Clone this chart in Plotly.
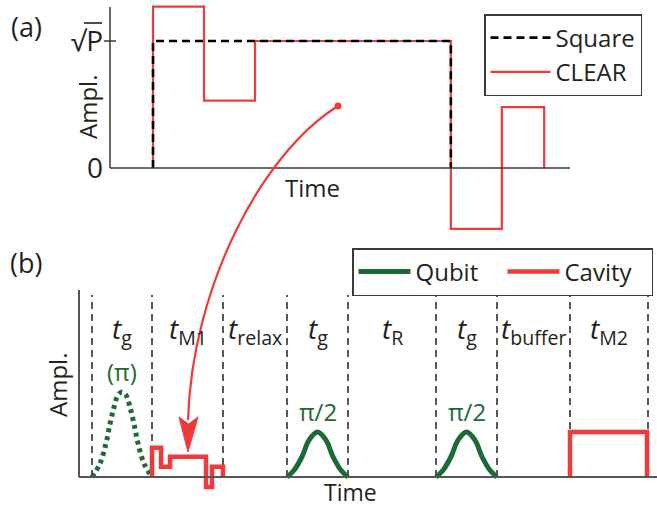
import plotly.graph_objects as go

W, H = 657, 507

# ---------------- data: panel (a) ----------------
clear_t = [0, 1, 2, 5.84, 6.84, 7.67]          # CLEAR segment boundaries (time units)
clear_amp = [1.27, 0.53, 1.0, -0.48, 0.48]     # CLEAR segment amplitudes (sqrt(P) units)
square_t = [0, 5.84]                           # square pulse start / end
square_amp = [1.0]                             # square pulse amplitude
a_ytick_vals = [0, 1]
a_ytick_text = ["0", "√P"]

# ---------------- data: panel (b) ----------------
seg_bounds = [0, 60, 131, 195, 256, 344, 405, 478, 556]
seg_labels = ["<i>t</i><sub>g</sub>", "<i>t</i><sub>M1</sub>", "<i>t</i><sub>relax</sub>",
              "<i>t</i><sub>g</sub>", "<i>t</i><sub>R</sub>", "<i>t</i><sub>g</sub>",
              "<i>t</i><sub>buffer</sub>", "<i>t</i><sub>M2</sub>"]
pi_dt = [0, 8, 14, 18, 22, 26, 30, 34, 38, 42, 46, 52, 60]
pi_amp = [0, 0.3, 0.75, 1.18, 1.55, 1.82, 1.89, 1.82, 1.55, 1.18, 0.75, 0.3, 0]
pi_start = 0
pi2_dt = [0, 7, 15, 22, 30.5, 39, 46, 54, 61]
pi2_amp = [0, 0.15, 0.45, 0.82, 1.0, 0.82, 0.45, 0.15, 0]
pi2_starts = [195, 344]
mini_clear_t = [60, 69, 78, 114, 120, 131]
mini_clear_amp = [0.65, 0.23, 0.45, -0.22, 0.23]
m2_t = [478, 555]
m2_amp = [1.0]

# ---------------- styles ----------------
RED = "#EE3A3A"
GREEN = "#1D6A36"
TXT = "#231F20"
AX = "#3A3A3A"
FONT = "Open Sans"

def px_x(p):
    return p / W

def px_y(p):
    return 1 - p / H

def steps(t, amp):
    return [t[0]] + list(t), [0] + list(amp) + [0]

fig = go.Figure()

# panel (a)
cx, cy = steps(clear_t, clear_amp)
fig.add_trace(go.Scatter(x=cx, y=cy, mode="lines", line=dict(color=RED, width=2.2, shape="hv"),
                         name="CLEAR", legend="legend", legendrank=2, xaxis="x", yaxis="y"))
sx, sy = steps(square_t, square_amp)
fig.add_trace(go.Scatter(x=sx, y=sy, mode="lines",
                         line=dict(color="black", width=2.6, shape="hv", dash="8px,5px"),
                         name="Square", legend="legend", legendrank=1, xaxis="x", yaxis="y"))

# panel (b)
fig.add_trace(go.Scatter(x=[pi_start + d for d in pi_dt], y=pi_amp, mode="lines",
                         line=dict(color=GREEN, width=5, shape="spline", dash="4px,4px"),
                         showlegend=False, xaxis="x2", yaxis="y2"))
for i, s in enumerate(pi2_starts):
    fig.add_trace(go.Scatter(x=[s + d for d in pi2_dt], y=pi2_amp, mode="lines",
                             line=dict(color=GREEN, width=5, shape="spline"),
                             name="Qubit", showlegend=(i == 0), legend="legend2",
                             xaxis="x2", yaxis="y2"))
mx, my = steps(mini_clear_t, mini_clear_amp)
fig.add_trace(go.Scatter(x=mx, y=my, mode="lines", line=dict(color=RED, width=4.5, shape="hv"),
                         name="Cavity", legend="legend2", xaxis="x2", yaxis="y2"))
m2x, m2y = steps(m2_t, m2_amp)
fig.add_trace(go.Scatter(x=m2x, y=m2y, mode="lines", line=dict(color=RED, width=4.5, shape="hv"),
                         showlegend=False, xaxis="x2", yaxis="y2"))

# ---------------- axes geometry ----------------
A_X0, A_UNIT = 153, 51          # px of t=0 and px per unit (panel a)
A_Y0, A_YUNIT = 168, 127        # px of amp=0 and px per unit
A_LEFT, A_RIGHT, A_TOP, A_BOT = 110, 570, 3, 240
B_X0 = 92
B_Y0, B_YUNIT = 477, 45
B_LEFT, B_RIGHT, B_TOP, B_BOT = 79, 657, 285, 497

hidden = dict(showgrid=False, zeroline=False, showline=False, showticklabels=False, ticks="")

fig.update_layout(
    width=W, height=H, margin=dict(l=0, r=0, t=0, b=0, autoexpand=False),
    paper_bgcolor="white", plot_bgcolor="rgba(0,0,0,0)",
    font=dict(family=FONT, color=TXT, size=24),
    xaxis=dict(domain=[px_x(A_LEFT), px_x(A_RIGHT)],
               range=[(A_LEFT - A_X0) / A_UNIT, (A_RIGHT - A_X0) / A_UNIT], **hidden),
    yaxis=dict(domain=[px_y(A_BOT), px_y(A_TOP)],
               range=[(A_Y0 - A_BOT) / A_YUNIT, (A_Y0 - A_TOP) / A_YUNIT],
               showgrid=False, zeroline=False, showline=False, ticks="",
               tickvals=a_ytick_vals, ticktext=a_ytick_text,
               tickfont=dict(size=28, color=TXT), ticklabelstandoff=6),
    xaxis2=dict(domain=[px_x(B_LEFT), px_x(B_RIGHT)],
                range=[B_LEFT - B_X0, B_RIGHT - B_X0], **hidden),
    yaxis2=dict(domain=[px_y(B_BOT), px_y(B_TOP)],
                range=[(B_Y0 - B_BOT) / B_YUNIT, (B_Y0 - B_TOP) / B_YUNIT], **hidden),
    legend=dict(x=px_x(484), y=px_y(14), xanchor="left", yanchor="top",
                bordercolor=AX, borderwidth=1.5, bgcolor="white",
                font=dict(size=24, color=TXT), itemwidth=60, tracegroupgap=0),
    legend2=dict(x=px_x(352), y=px_y(248), xanchor="left", yanchor="top", orientation="h",
                 bordercolor=AX, borderwidth=1.5, bgcolor="white",
                 font=dict(size=24, color=TXT), itemwidth=52,
                 entrywidth=82, entrywidthmode="pixels"),
    showlegend=True,
)

shapes = []
# axis lines panel (a)
shapes.append(dict(type="line", xref="x domain", yref="y", x0=0, x1=1, y0=0, y1=0,
                   line=dict(color=AX, width=1.5)))
shapes.append(dict(type="line", xref="x domain", yref="y", x0=0, x1=0, y0=0,
                   y1=(A_Y0 - 7) / A_YUNIT, line=dict(color=AX, width=1.5)))
shapes.append(dict(type="line", xref="x domain", yref="y", x0=-6 / (A_RIGHT - A_LEFT),
                   x1=6 / (A_RIGHT - A_LEFT), y0=1, y1=1, line=dict(color=AX, width=1.5)))
# vinculum of the square-root tick label
shapes.append(dict(type="line", xref="paper", yref="paper", x0=px_x(84), x1=px_x(102),
                   y0=px_y(23), y1=px_y(23), line=dict(color=TXT, width=1.6)))
# axis lines panel (b)
shapes.append(dict(type="line", xref="x2 domain", yref="y2", x0=0, x1=1, y0=0, y1=0,
                   line=dict(color="#555", width=2)))
shapes.append(dict(type="line", xref="x2 domain", yref="y2", x0=0, x1=0, y0=0,
                   y1=(B_Y0 - 290) / B_YUNIT, line=dict(color="#555", width=2)))
# segment dividers
for b in seg_bounds:
    shapes.append(dict(type="line", xref="x2", yref="y2", x0=b, x1=b, y0=0,
                       y1=(B_Y0 - 295) / B_YUNIT,
                       line=dict(color="#222", width=1.5, dash="7px,5px"), layer="below"))

# curved arrow (paper coordinates from pixel anchors)
P0, P1, P2, P3 = (338, 106), (261, 154), (192, 288), (188, 420)
path = "M {},{} C {},{} {},{} {},{}".format(
    px_x(P0[0]), px_y(P0[1]), px_x(P1[0]), px_y(P1[1]),
    px_x(P2[0]), px_y(P2[1]), px_x(P3[0]), px_y(P3[1]))
shapes.append(dict(type="path", xref="paper", yref="paper", path=path,
                   line=dict(color=RED, width=2.2)))
tip, lc, notch, rc = (188, 452), (179, 417), (188.5, 424), (198, 417)
head = "M {},{} L {},{} L {},{} L {},{} Z".format(
    px_x(tip[0]), px_y(tip[1]), px_x(lc[0]), px_y(lc[1]),
    px_x(notch[0]), px_y(notch[1]), px_x(rc[0]), px_y(rc[1]))
shapes.append(dict(type="path", xref="paper", yref="paper", path=head,
                   fillcolor=RED, line=dict(color=RED, width=1)))
shapes.append(dict(type="circle", xref="paper", yref="paper",
                   x0=px_x(P0[0] - 3.5), x1=px_x(P0[0] + 3.5),
                   y0=px_y(P0[1] + 3.5), y1=px_y(P0[1] - 3.5),
                   fillcolor=RED, line=dict(color=RED, width=0)))
fig.update_layout(shapes=shapes)

ann = []
def paper_text(text, x, y, size=24, color=TXT, angle=0):
    ann.append(dict(text=text, xref="paper", yref="paper", x=px_x(x), y=px_y(y),
                    xanchor="center", yanchor="middle", showarrow=False, textangle=angle,
                    font=dict(size=size, color=color, family=FONT)))

paper_text("(a)", 26, 26, size=27)
paper_text("(b)", 26, 262, size=27)
paper_text("Time", 312, 187)
paper_text("Time", 350, 492, size=23)
paper_text("Ampl.", 88, 107, angle=-90)
paper_text("Ampl.", 57, 385, angle=-90)

for i, lab in enumerate(seg_labels):
    xc = (seg_bounds[i] + seg_bounds[i + 1]) / 2
    ann.append(dict(text=lab, xref="x2", yref="y2", x=xc, y=(B_Y0 - 330) / B_YUNIT,
                    xanchor="center", yanchor="middle", showarrow=False,
                    font=dict(size=28, color=TXT, family=FONT)))

ann.append(dict(text="(π)", xref="x2", yref="y2", x=pi_start + pi_dt[len(pi_dt) // 2],
                y=max(pi_amp), yshift=2, xanchor="center", yanchor="bottom",
                showarrow=False, font=dict(size=24, color=GREEN, family=FONT)))
for s in pi2_starts:
    ann.append(dict(text="π/2", xref="x2", yref="y2", x=s + pi2_dt[len(pi2_dt) // 2],
                    y=max(pi2_amp), yshift=2, xanchor="center", yanchor="bottom",
                    showarrow=False, font=dict(size=24, color=GREEN, family=FONT)))
fig.update_layout(annotations=ann)

fig.write_html("out.html", config={"displayModeBar": False},
               post_script="document.body.style.margin='0';document.body.style.padding='0';")
